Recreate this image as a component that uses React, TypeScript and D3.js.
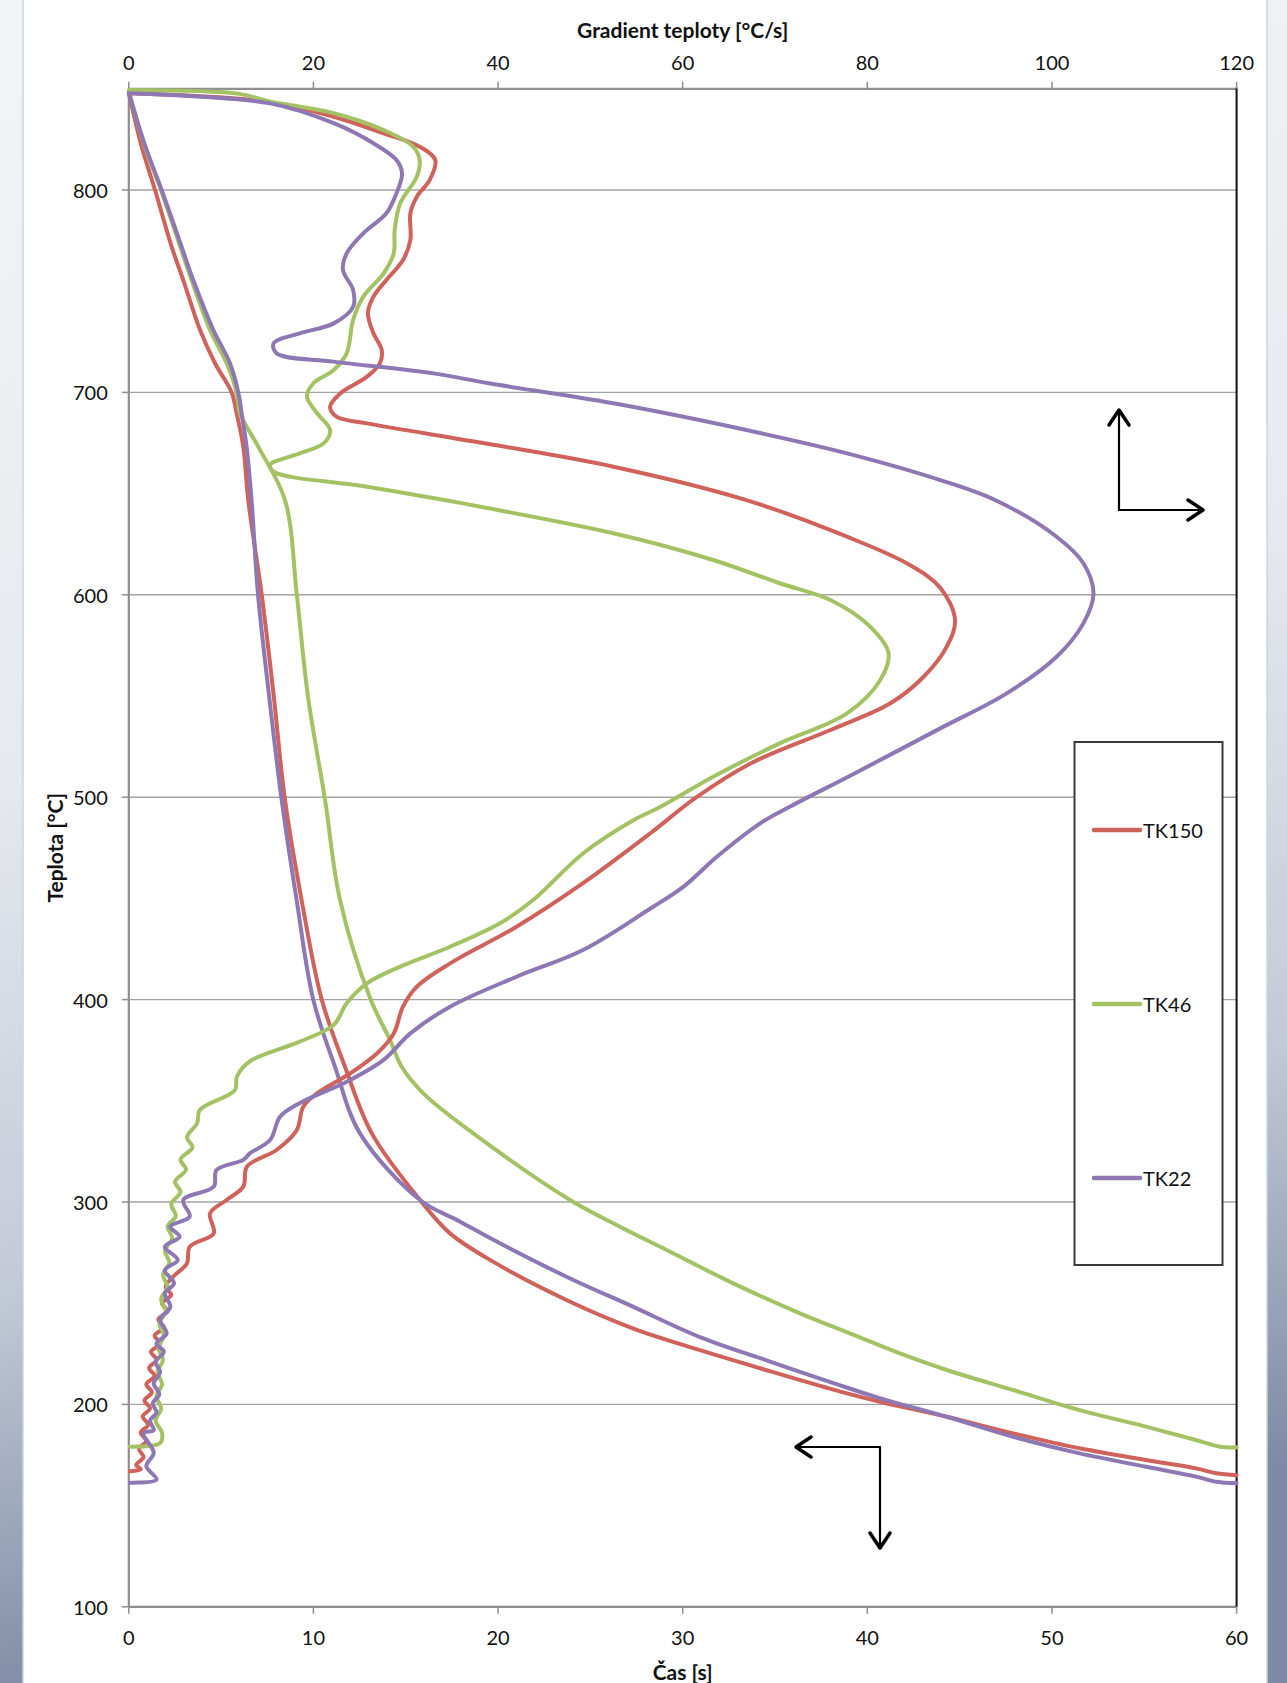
import React from "react";
import * as d3 from "d3";

// ---- data ----
// Time curves: [time s, temperature °C]
const tk150Time: [number, number][] = [
  [0, 848], [0.68, 822], [1.42, 800], [2.32, 772], [2.95, 755.5], [3.86, 730.8], [4.67, 714.4],
  [5.57, 700], [5.84, 689.7], [6.2, 673.2], [6.47, 646.8], [7.2, 600], [7.85, 550], [8.46, 498.6],
  [9.36, 449.2], [10.45, 400], [11.71, 366.8], [13.16, 333.9], [15.77, 301], [17.4, 284.5],
  [19.56, 271.4], [23.7, 251.6], [27.3, 237.6], [30.9, 226.9], [34.5, 217], [38.2, 207.2],
  [40.69, 201.3], [44.3, 193.9], [47.9, 185.7], [51.5, 178.3], [55.1, 172.5], [57.8, 168.4],
  [58.9, 166], [60, 165],
];
const tk46Time: [number, number][] = [
  [0, 849], [0.85, 822], [1.74, 800], [2.78, 772], [3.4, 755.5], [4.4, 730.8], [5.3, 714.4],
  [5.84, 700], [6.02, 689.7], [7.01, 673.2], [8.46, 646.8], [9.1, 600], [9.7, 550], [10.63, 498.6],
  [11.44, 449.2], [13.1, 400], [14.15, 380], [14.78, 366.8], [15.95, 353.7], [18.66, 333.9],
  [23.9, 301], [26.6, 287.8], [29.13, 276.3], [32.74, 259.8], [36.35, 245], [39.06, 235.1],
  [41.77, 225.2], [44.3, 217], [47.9, 207.1], [51.5, 197.2], [55.1, 189], [57.8, 182.4],
  [59.1, 179.1], [60, 178.8],
];
const tk22Time: [number, number][] = [
  [0, 848], [0.88, 822], [1.78, 800], [2.86, 772], [3.49, 755.5], [4.58, 730.8], [5.48, 714.4],
  [5.93, 700], [6.11, 689.7], [6.38, 673.2], [6.65, 646.8], [7.0, 600], [7.6, 550], [8.28, 498.6],
  [9.09, 449.2], [9.99, 400], [11.17, 366.8], [12.52, 333.9], [15.77, 301], [17.9, 290.5],
  [20.1, 279.6], [23.7, 263.1], [27.3, 248.3], [30.9, 233.4], [34.5, 221.9], [38.2, 210.4],
  [40.7, 203], [44.3, 193.9], [47.9, 184], [51.5, 175.8], [55.1, 169.2], [57.8, 164.3],
  [58.9, 161.8], [60, 161],
];

// Gradient curves: [gradient °C/s, temperature °C]
const tk150Grad: [number, number][] = [
  [0.05, 847.8], [14.9, 843.6], [22.2, 836.2], [27.6, 828], [31.5, 821.4], [33.2, 814.8],
  [32.6, 805], [31.2, 796.7], [30.5, 788.5], [30.5, 775.3], [29.7, 765.4], [27.9, 755.5],
  [26.5, 747.3], [25.9, 739.1], [26.5, 729.2], [27.4, 720.9], [27.2, 714.4], [25.8, 707.8],
  [22.9, 699.5], [21.8, 692.9], [22.5, 688], [25.8, 684.7], [39, 674.5], [52.5, 663.3],
  [66.9, 646.8], [77.8, 628.7], [84.5, 615], [87.9, 603.5], [89.5, 587.5], [88.6, 574.4],
  [86.1, 559.5], [82.5, 546.4], [76, 533.2], [67.5, 517], [61.5, 500], [56.5, 482.2],
  [49.2, 457.5], [42, 436], [34.8, 417.9], [31.2, 406.4], [29.7, 396.5], [28.7, 383.3],
  [26.9, 373.5], [24, 363.6], [20.4, 353.7], [18.9, 347.1], [18.2, 335.6], [16, 325.7],
  [12.8, 317.5], [12.4, 307.6], [10.6, 301], [8.8, 294.4], [9.2, 284.5], [6.6, 277.9],
  [6.3, 269.7], [4.8, 263.1], [4.0, 258], [4.6, 254], [3.6, 250], [4.2, 246], [3.2, 242],
  [3.8, 238], [2.8, 234], [3.4, 230], [2.4, 226], [3.0, 222], [2.2, 218], [2.8, 214],
  [1.9, 210], [2.5, 206], [1.7, 202], [2.3, 198], [1.5, 194], [2.1, 190], [1.3, 186],
  [1.9, 182], [1.1, 178], [1.6, 174], [0.8, 170], [1.3, 168], [0.1, 167],
];
const tk46Grad: [number, number][] = [
  [0.05, 849.4], [12, 847.5], [15, 844], [22.2, 837.9], [27.6, 829.6], [30.8, 821.4],
  [31.5, 814.8], [31.2, 806.6], [29.4, 793.4], [28.8, 780.2], [28.7, 768.7], [27.6, 758.8],
  [25.4, 747.3], [24.3, 735.8], [23.6, 719.3], [22.2, 711.1], [20, 704.5], [19.3, 697.9],
  [20.4, 689.7], [21.8, 681.4], [21.1, 674.8], [18.5, 669.9], [15.3, 664.1], [15.7, 660.8],
  [25.8, 653.4], [34.8, 646.3], [38.1, 643.5], [52.5, 630.4], [63.3, 617.2], [70.5, 605.7],
  [76, 597.4], [80.3, 584.3], [82.3, 571.1], [81.4, 557.9], [77.8, 541.4], [70.5, 526.6],
  [63.3, 510.1], [57.5, 495], [54.7, 488.7], [49.2, 472.2], [43.8, 449.2], [40.2, 437.7],
  [34.8, 426.1], [29.4, 416.3], [25.8, 408], [23.6, 398.2], [22.2, 387.5], [18.5, 379.2],
  [13.1, 369.5], [11.7, 361.9], [11.5, 355.3], [7.7, 345.5], [7.4, 338.9], [6.3, 332],
  [6.9, 327], [5.6, 321], [6.2, 316], [5.0, 310], [5.6, 305], [4.6, 299], [5.1, 293],
  [4.2, 288], [4.7, 282], [3.9, 276], [4.4, 270], [3.7, 264], [4.2, 258], [3.5, 252],
  [4.0, 246], [3.3, 240], [3.8, 234], [3.2, 228], [3.7, 222], [3.1, 216], [3.6, 210],
  [3.0, 204], [3.5, 198], [2.9, 192], [3.6, 186], [3.4, 181], [0.1, 179.1],
];
const tk22Grad: [number, number][] = [
  [0.05, 847.8], [15.3, 842.8], [22.2, 833], [26.5, 823.1], [29, 814.8], [29.6, 808.2],
  [29, 798.4], [27.9, 788.5], [25.4, 778.6], [23.6, 768.7], [23.2, 760.5], [24.3, 750.6],
  [24.3, 742.3], [22.2, 734.1], [18.5, 729.2], [15.7, 724.3], [16, 719.3], [22.2, 715.2],
  [33, 709.4], [39, 704.5], [52.5, 694.6], [66.9, 681.4], [77.8, 669.9], [87.9, 656.7],
  [94, 646.5], [100.5, 628.7], [103.4, 615.6], [104.5, 600.7], [103.4, 585.9],
  [100.5, 569.4], [95.1, 551.3], [87.9, 534], [78.3, 511], [71.6, 495.3], [68.4, 487.1],
  [63.7, 470.6], [60.1, 455.8], [56.5, 445], [49.2, 424.5], [42, 411.3], [34.8, 396.5],
  [30.5, 383.3], [27.6, 370.2], [24, 360.3], [18.5, 348.8], [16.4, 342.2], [15.3, 330.6],
  [13.1, 324], [12.4, 320.8], [9.5, 315.8], [9.2, 307.6], [5.9, 301], [6.6, 292.8],
  [4.5, 287.8], [5.5, 282.8], [3.9, 277.9], [5.3, 271.3], [3.9, 266.4], [4.9, 259.8],
  [3.9, 254.9], [4.5, 248.3], [3.4, 241.7], [4.1, 235.1], [3.0, 230], [3.8, 226],
  [2.9, 221], [3.4, 216], [2.7, 210.4], [3.3, 205], [2.6, 200.5], [3.0, 196], [2.3, 192],
  [2.7, 187.3], [1.6, 185.7], [2.7, 176.1], [1.9, 169.5], [3.0, 162.9], [0.5, 161.3],
  [0.1, 161.3],
];

const seriesNames = ["TK150", "TK46", "TK22"];
const seriesColors = ["#cf625a", "#a4c264", "#8e78b4"];
const timeTicks = [0, 10, 20, 30, 40, 50, 60];
const gradTicks = [0, 20, 40, 60, 80, 100, 120];
const tempTicks = [100, 200, 300, 400, 500, 600, 700, 800];

const W = 1287;
const H = 1683;
const PL = 128.8;
const PR = 1236.6;
const PT = 88.8;
const PB = 1606.8;
const FONT = "Lato, 'Open Sans', 'DejaVu Sans', sans-serif";

export default function App() {
  const x = d3.scaleLinear().domain([0, 60]).range([PL, PR]);
  const xg = d3.scaleLinear().domain([0, 120]).range([PL, PR]);
  const y = d3.scaleLinear().domain([100, 850]).range([PB, PT]);

  const timeLine = d3
    .line<[number, number]>()
    .x((d) => x(d[0]))
    .y((d) => y(d[1]))
    .curve(d3.curveCatmullRom.alpha(0.5));
  const gradLine = d3
    .line<[number, number]>()
    .x((d) => xg(d[0]))
    .y((d) => y(d[1]))
    .curve(d3.curveCatmullRom.alpha(0.5));

  const timeSeries = [tk150Time, tk46Time, tk22Time];
  const gradSeries = [tk150Grad, tk46Grad, tk22Grad];
  const legendY = [830, 1004, 1178];

  const axisGray = "#8e8e8e";

  return (
    <div style={{ position: "absolute", left: 0, top: 0 }}>
      <svg width={W} height={H} style={{ display: "block" }}>
        <defs>
          <linearGradient id="bg" x1="0" y1="0" x2="0.15" y2="1">
            <stop offset="0" stopColor="#f3f4f6" />
            <stop offset="0.45" stopColor="#e6e9ee" />
            <stop offset="0.75" stopColor="#c3cad7" />
            <stop offset="1" stopColor="#7d89a4" />
          </linearGradient>
        </defs>
        <rect x={0} y={0} width={W} height={H} fill="url(#bg)" />
        <rect x={23} y={-2} width={1244} height={H + 4} fill="#ffffff" stroke="#c9d5e3" strokeWidth={1.5} />

        {/* gridlines */}
        {tempTicks.map((t) => (
          <line key={"g" + t} x1={PL} x2={PR} y1={y(t)} y2={y(t)} stroke="#a3a3a3" strokeWidth={1.4} />
        ))}

        {/* axes */}
        <line x1={PL} x2={PL} y1={PT} y2={PB} stroke={axisGray} strokeWidth={2.2} />
        <line x1={PL} x2={PR} y1={PB} y2={PB} stroke={axisGray} strokeWidth={2.2} />
        <line x1={PL} x2={PR} y1={PT} y2={PT} stroke={axisGray} strokeWidth={2.2} />
        <line x1={PR} x2={PR} y1={PT - 1} y2={PB} stroke="#111" strokeWidth={2} />

        {tempTicks.map((t) => (
          <g key={"yt" + t}>
            <line x1={PL - 7} x2={PL} y1={y(t)} y2={y(t)} stroke={axisGray} strokeWidth={1.5} />
            <text x={PL - 21} y={y(t)} textAnchor="end" dominantBaseline="central" fontFamily={FONT} fontSize={20} fill="#111">
              {t}
            </text>
          </g>
        ))}
        {timeTicks.map((t) => (
          <g key={"xt" + t}>
            <line x1={x(t)} x2={x(t)} y1={PB} y2={PB + 7} stroke={axisGray} strokeWidth={1.5} />
            <text x={x(t)} y={1637} textAnchor="middle" dominantBaseline="central" fontFamily={FONT} fontSize={20} fill="#111">
              {t}
            </text>
          </g>
        ))}
        {gradTicks.map((t) => (
          <g key={"gt" + t}>
            <line x1={xg(t)} x2={xg(t)} y1={PT - 7} y2={PT} stroke={axisGray} strokeWidth={1.5} />
            <text x={xg(t)} y={62} textAnchor="middle" dominantBaseline="central" fontFamily={FONT} fontSize={20} fill="#111">
              {t}
            </text>
          </g>
        ))}

        {/* axis titles */}
        <text x={(PL + PR) / 2} y={29} textAnchor="middle" dominantBaseline="central" fontFamily={FONT} fontWeight="bold" fontSize={21} fill="#111">
          Gradient teploty [°C/s]
        </text>
        <text x={(PL + PR) / 2} y={1671} textAnchor="middle" dominantBaseline="central" fontFamily={FONT} fontWeight="bold" fontSize={21} fill="#111">
          Čas [s]
        </text>
        <text
          transform={`translate(54, ${(PT + PB) / 2}) rotate(-90)`}
          textAnchor="middle"
          dominantBaseline="central"
          fontFamily={FONT}
          fontWeight="bold"
          fontSize={21}
          fill="#111"
        >
          Teplota [°C]
        </text>

        {/* curves */}
        {timeSeries.map((s, i) => (
          <path key={"ts" + i} d={timeLine(s) || ""} fill="none" stroke={seriesColors[i]} strokeWidth={4} strokeLinejoin="round" strokeLinecap="round" />
        ))}
        {gradSeries.map((s, i) => (
          <path key={"gs" + i} d={gradLine(s) || ""} fill="none" stroke={seriesColors[i]} strokeWidth={4} strokeLinejoin="round" strokeLinecap="round" />
        ))}

        {/* direction arrows */}
        <g stroke="#000" fill="none" strokeLinecap="round" strokeLinejoin="round">
          <line x1={1119} y1={510} x2={1119} y2={410} strokeWidth={2.2} />
          <polyline points="1109,425 1119,410 1129,425" strokeWidth={3.5} />
          <line x1={1119} y1={510} x2={1203} y2={510} strokeWidth={2.2} />
          <polyline points="1188,500 1203,510 1188,520" strokeWidth={3.5} />
          <line x1={880} y1={1447} x2={796} y2={1447} strokeWidth={2.2} />
          <polyline points="811,1437 796,1447 811,1457" strokeWidth={3.5} />
          <line x1={880} y1={1447} x2={880} y2={1548} strokeWidth={2.2} />
          <polyline points="870,1533 880,1548 890,1533" strokeWidth={3.5} />
        </g>

        {/* legend */}
        <rect x={1074.5} y={742} width={148} height={523} fill="#fff" stroke="#3a3a3a" strokeWidth={2} />
        {seriesNames.map((n, i) => (
          <g key={"lg" + n}>
            <line x1={1094} x2={1140} y1={legendY[i]} y2={legendY[i]} stroke={seriesColors[i]} strokeWidth={4.5} strokeLinecap="round" />
            <text x={1143} y={legendY[i]} dominantBaseline="central" fontFamily={FONT} fontSize={20} fill="#111">
              {n}
            </text>
          </g>
        ))}
      </svg>
    </div>
  );
}
